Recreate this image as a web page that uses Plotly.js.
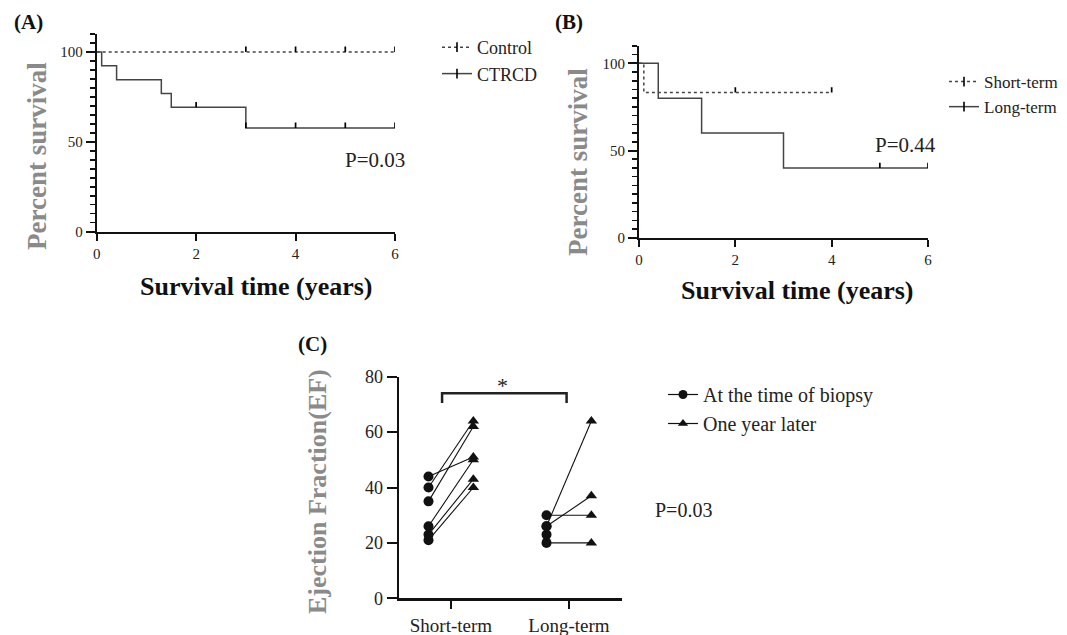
<!DOCTYPE html>
<html>
<head>
<meta charset="utf-8">
<script src="https://cdn.plot.ly/plotly-3.0.1.min.js"></script>
<style>html,body{margin:0;padding:0;background:#fff;}#chart{width:1067px;height:635px;}</style>
</head>
<body>
<div id="chart"></div>
<script>
// ---------- Data ----------
// Panel A: Kaplan-Meier, Control vs CTRCD
const ctrlTime = [0, 6];
const ctrlSurv = [100, 100];
const ctrlCensorTime = [3, 4, 5, 6];
const ctrlCensorSurv = [100, 100, 100, 100];

const ctrcdTime = [0, 0.1, 0.4, 1.3, 1.5, 3, 6];
const ctrcdSurv = [100, 92.3, 84.6, 76.9, 69.2, 57.7, 57.7];
const ctrcdCensorTime = [2, 3, 4, 5, 6];
const ctrcdCensorSurv = [69.2, 57.7, 57.7, 57.7, 57.7];

// Panel B: Kaplan-Meier, Short-term vs Long-term
const shortTime = [0, 0.1, 4];
const shortSurv = [100, 83.3, 83.3];
const shortCensorTime = [2, 4];
const shortCensorSurv = [83.3, 83.3];

const longTime = [0, 0.4, 1.3, 3, 6];
const longSurv = [100, 80, 60, 40, 40];
const longCensorTime = [5, 6];
const longCensorSurv = [40, 40];

// Panel C: Ejection fraction, paired
const efGroups = ['Short-term', 'Long-term'];
const shortBiopsy  = [44, 40, 35, 26, 23, 21];
const shortOneYear = [51, 64, 62, 50, 43, 40];
const longBiopsy   = [30, 26, 26, 23, 20];
const longOneYear  = [30, 64, 37, null, 20];

const pTexts = ['P=0.03', 'P=0.44', 'P=0.03'];

// ---------- Helpers ----------
const W = 1067, H = 635;
const px = v => v / W;
const py = v => 1 - v / H;
const SERIF = '"Liberation Serif", "Times New Roman", Times, serif';
const LINE_COL = '#444';
const GRAY_TITLE = '#8a8a8a';
const PAIR_OFF = 0.19;
const CENSOR_H = 3;   // censor tick height in survival-% units

function censor(x, y, xa, ya) {
  return {x: x, y: y, xaxis: xa, yaxis: ya, mode: 'markers', type: 'scatter',
    cliponaxis: false, showlegend: false, hoverinfo: 'skip',
    marker: {size: 1, color: 'rgba(0,0,0,0)'},
    error_y: {type: 'data', symmetric: false, array: x.map(() => CENSOR_H),
      arrayminus: x.map(() => 0), width: 0, thickness: 1.7, color: '#000'}};
}
function kmLine(x, y, xa, ya, dash) {
  return {x: x, y: y, xaxis: xa, yaxis: ya, mode: 'lines', type: 'scatter',
    cliponaxis: false, showlegend: false,
    line: {shape: 'hv', color: LINE_COL, width: 1.5, dash: dash}};
}
function kmLegend(name, dash, leg, xa, ya) {
  return {x: [null], y: [null], name: name, mode: 'lines+markers', type: 'scatter',
    legend: leg, xaxis: xa, yaxis: ya,
    line: {color: LINE_COL, width: 1.5, dash: dash},
    marker: {symbol: 'line-ns', size: 7, color: '#000', line: {width: 1.6, color: '#000'}}};
}

// Paired lines for panel C built from arrays
function pairSegments(before, after, center) {
  const xs = [], ys = [];
  for (let i = 0; i < before.length; i++) {
    if (after[i] === null || after[i] === undefined) continue;
    xs.push(center - PAIR_OFF, center + PAIR_OFF, null);
    ys.push(before[i], after[i], null);
  }
  return {xs, ys};
}
const segS = pairSegments(shortBiopsy, shortOneYear, 0);
const segL = pairSegments(longBiopsy, longOneYear, 1);

const traces = [
  // Panel A
  kmLine(ctrlTime, ctrlSurv, 'x', 'y', 'dot'),
  censor(ctrlCensorTime, ctrlCensorSurv, 'x', 'y'),
  kmLine(ctrcdTime, ctrcdSurv, 'x', 'y', 'solid'),
  censor(ctrcdCensorTime, ctrcdCensorSurv, 'x', 'y'),
  kmLegend('Control', 'dot', 'legend', 'x', 'y'),
  kmLegend('CTRCD', 'solid', 'legend', 'x', 'y'),
  // Panel B
  kmLine(shortTime, shortSurv, 'x2', 'y2', 'dot'),
  censor(shortCensorTime, shortCensorSurv, 'x2', 'y2'),
  kmLine(longTime, longSurv, 'x2', 'y2', 'solid'),
  censor(longCensorTime, longCensorSurv, 'x2', 'y2'),
  kmLegend('Short-term', 'dot', 'legend2', 'x2', 'y2'),
  kmLegend('Long-term', 'solid', 'legend2', 'x2', 'y2'),
  // Panel C lines
  {x: segS.xs.concat(segL.xs), y: segS.ys.concat(segL.ys), xaxis: 'x3', yaxis: 'y3',
   mode: 'lines', type: 'scatter', showlegend: false, hoverinfo: 'skip',
   line: {color: '#111', width: 1.1}},
  // circles
  {x: shortBiopsy.map(() => 0 - PAIR_OFF).concat(longBiopsy.map(() => 1 - PAIR_OFF)),
   y: shortBiopsy.concat(longBiopsy), xaxis: 'x3', yaxis: 'y3', mode: 'markers', type: 'scatter',
   showlegend: false, marker: {symbol: 'circle', size: 10, color: '#111'}},
  // triangles
  {x: shortOneYear.map(() => 0 + PAIR_OFF).concat(longOneYear.map(() => 1 + PAIR_OFF)),
   y: shortOneYear.concat(longOneYear), xaxis: 'x3', yaxis: 'y3', mode: 'markers', type: 'scatter',
   showlegend: false, marker: {symbol: 'triangle-up', size: 10, color: '#111'}},
  // legend C
  {x: [null], y: [null], xaxis: 'x3', yaxis: 'y3', name: 'At the time of biopsy', legend: 'legend3',
   mode: 'lines+markers', type: 'scatter', line: {color: '#111', width: 1.2},
   marker: {symbol: 'circle', size: 9, color: '#111'}},
  {x: [null], y: [null], xaxis: 'x3', yaxis: 'y3', name: 'One year later', legend: 'legend3',
   mode: 'lines+markers', type: 'scatter', line: {color: '#111', width: 1.2},
   marker: {symbol: 'triangle-up', size: 9, color: '#111'}}
];

const baseAxis = {
  showgrid: false, zeroline: false, showline: true, linecolor: '#111', linewidth: 2,
  ticks: 'outside', tickcolor: '#111', tickwidth: 2, fixedrange: true,
  tickfont: {family: SERIF, size: 15, color: '#222'}
};
const kmX = Object.assign({}, baseAxis, {range: [0, 6], tickvals: [0, 2, 4, 6], ticklen: 7});
const kmY = Object.assign({}, baseAxis, {range: [0, 110], tickvals: [0, 50, 100], ticklen: 9,
  minor: {dtick: 5, tick0: 0, ticks: 'outside', ticklen: 5, tickwidth: 1.5, tickcolor: '#111'}});

const legendBase = {xanchor: 'left', yanchor: 'top', bgcolor: 'rgba(0,0,0,0)',
  tracegroupgap: 0, itemclick: false, borderwidth: 0};

const layout = {
  width: W, height: H,
  margin: {l: 0, r: 0, t: 0, b: 0},
  paper_bgcolor: '#fff', plot_bgcolor: 'rgba(0,0,0,0)',
  font: {family: SERIF, color: '#111'},
  xaxis: Object.assign({}, kmX, {domain: [px(96.7), px(395)], anchor: 'y'}),
  yaxis: Object.assign({}, kmY, {domain: [py(231.7), py(34)], anchor: 'x'}),
  xaxis2: Object.assign({}, kmX, {domain: [px(639), px(928)], anchor: 'y2'}),
  yaxis2: Object.assign({}, kmY, {domain: [py(237.7), py(45.9)], anchor: 'x2'}),
  xaxis3: Object.assign({}, baseAxis, {domain: [px(399), px(621.7)], anchor: 'y3',
    range: [-0.44, 1.447], tickvals: [0, 1], ticktext: efGroups, ticklen: 8, tickwidth: 2.5,
    linewidth: 2.5, ticklabelstandoff: 0,
    tickfont: {family: SERIF, size: 19, color: '#222'}}),
  yaxis3: Object.assign({}, baseAxis, {domain: [py(598.3), py(376.7)], anchor: 'x3',
    range: [0, 80], tickvals: [0, 20, 40, 60, 80], ticklen: 10, linewidth: 2.5,
    tickfont: {family: SERIF, size: 18, color: '#222'}}),
  legend: Object.assign({}, legendBase, {x: px(437), y: py(29),
    font: {family: SERIF, size: 18, color: '#222'}}),
  legend2: Object.assign({}, legendBase, {x: px(944), y: py(64),
    font: {family: SERIF, size: 17, color: '#222'}}),
  legend3: Object.assign({}, legendBase, {x: px(663), y: py(375),
    font: {family: SERIF, size: 20, color: '#222'}}),
  shapes: [
    {type: 'path', xref: 'x3', yref: 'y3',
     path: 'M -0.075 70.5 L -0.075 74 L 0.98 74 L 0.98 70.5',
     line: {color: '#222', width: 2.5}}
  ],
  annotations: [
    {text: '<b>(A)</b>', x: px(12), y: py(22), xanchor: 'left'},
    {text: '<b>(B)</b>', x: px(553), y: py(22), xanchor: 'left'},
    {text: '<b>(C)</b>', x: px(296), y: py(344), xanchor: 'left'},
  ].map(a => Object.assign(a, {xref: 'paper', yref: 'paper', showarrow: false, yanchor: 'middle',
      font: {family: SERIF, size: 21, color: '#111'}})).concat([
    {text: '<b>Percent survival</b>', x: px(37), y: py(156), textangle: -90, xanchor: 'center',
     font: {family: SERIF, size: 27, color: GRAY_TITLE}},
    {text: '<b>Percent survival</b>', x: px(578), y: py(162), textangle: -90, xanchor: 'center',
     font: {family: SERIF, size: 27, color: GRAY_TITLE}},
    {text: '<b>Ejection Fraction(EF)</b>', x: px(317), y: py(492), textangle: -90, xanchor: 'center',
     font: {family: SERIF, size: 26, color: GRAY_TITLE}},
    {text: '<b>Survival time (years)</b>', x: px(256), y: py(287), xanchor: 'center',
     font: {family: SERIF, size: 26, color: '#111'}},
    {text: '<b>Survival time (years)</b>', x: px(797), y: py(290), xanchor: 'center',
     font: {family: SERIF, size: 26, color: '#111'}},
    {text: pTexts[0], x: px(343), y: py(160), xanchor: 'left',
     font: {family: SERIF, size: 21, color: '#222'}},
    {text: pTexts[1], x: px(873), y: py(145), xanchor: 'left',
     font: {family: SERIF, size: 21, color: '#222'}},
    {text: pTexts[2], x: px(653), y: py(510), xanchor: 'left',
     font: {family: SERIF, size: 20, color: '#222'}}
  ].map(a => Object.assign({xref: 'paper', yref: 'paper', showarrow: false, yanchor: 'middle'}, a)))
  .concat([
    {text: '*', xref: 'x3', yref: 'y3', x: 0.44, y: 77, showarrow: false, yanchor: 'middle',
     xanchor: 'center', font: {family: SERIF, size: 22, color: '#222'}}
  ])
};

Plotly.newPlot('chart', traces, layout, {staticPlot: true, displayModeBar: false});
</script>
</body>
</html>
